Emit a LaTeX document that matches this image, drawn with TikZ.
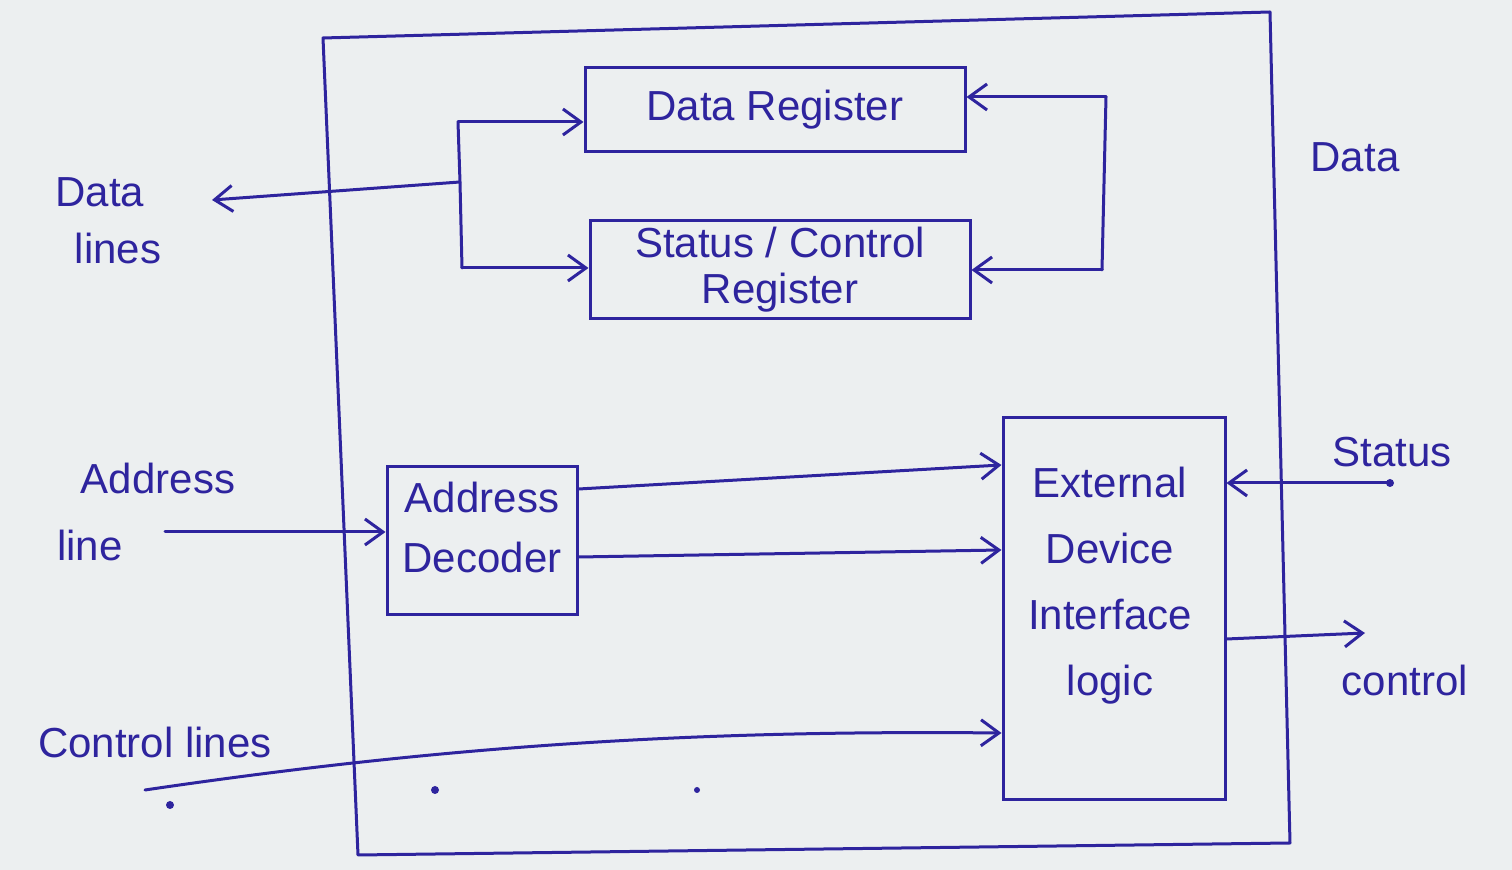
\documentclass[tikz,border=0pt]{standalone}
\usepackage{fontspec}
\setmainfont{Liberation Sans}
\usetikzlibrary{arrows.meta}
\definecolor{ink}{RGB}{46,36,158}
\definecolor{paper}{RGB}{236,239,240}
\begin{document}
\begin{tikzpicture}[x=0.5pt,y=-0.5pt,
  txt/.style={font=\fontsize{21}{23}\selectfont, text=ink},
  box/.style={draw=ink, line width=1.5pt, inner sep=0pt, align=center, txt},
  lbl/.style={align=center, inner sep=0pt, txt},
  conn/.style={draw=ink, line width=1.5pt, line cap=round, line join=round},
  arr/.style={conn, -{Straight Barb[length=9pt,width=13pt,line width=1.5pt]}},
  inkdot/.style={fill=ink, circle, inner sep=0pt, minimum size=4pt}]

% paper
\fill[paper] (0,0) rectangle (1512,870);
\useasboundingbox (0,0) rectangle (1512,870);

% outer boundary of the I/O module
\draw[conn] (323,38) -- (1270,12) -- (1290,843) -- (358,855) -- cycle;

% registers
\node[box, minimum width=190pt, minimum height=42pt] (dr) at (775,110) {Data Register};
\node[box, minimum width=190pt, minimum height=49pt] (sr) at (780,270) {Status / Control\\Register};

% address decoder
\node[box, minimum width=95pt, minimum height=74pt] (ad) at (482,541) {};
\node[lbl, font=\fontsize{21}{30}\selectfont] (adT) at (482,527) {Address\\Decoder};

% external device interface logic
\node[box, minimum width=111pt, minimum height=191pt] (ext) at (1114,609) {};
\node[lbl, font=\fontsize{21}{33}\selectfont] (extT) at (1110,586) {External\\Device\\Interface\\logic};

% internal data bus (left)
\coordinate (lbT) at (458,122);
\coordinate (lbM) at (460,182);
\coordinate (lbB) at (462,268);
\coordinate (dlEnd) at (212,200);
\draw[conn] (lbT) -- (lbM) -- (lbB);
\draw[arr] (lbT) -- (lbT -| dr.west);
\draw[arr] (lbB) -- (lbB -| sr.west);
\draw[arr] (lbM) -- (dlEnd);

% data bus from the device side (right)
\coordinate (rbT) at (1106,97);
\coordinate (rbB) at (1102,270);
\draw[conn] (rbT) -- (rbB);
\draw[arr] (rbT) -- (rbT -| dr.east);
\draw[arr] (rbB) -- (rbB -| sr.east);

% address lines
\coordinate (al) at (165,532);
\draw[arr] (al) -- (al -| ad.west);
\draw[arr] ([yshift=26pt]ad.east) -- ([yshift=72pt]ext.west);
\draw[arr] ([yshift=-8pt]ad.east) -- ([yshift=29.5pt]ext.west);

% control lines
\coordinate (cl) at (145,790);
\draw[arr] (cl) .. controls (450,745) and (700,730) .. ([yshift=-62pt]ext.west);

% status and control to the device
\coordinate (st) at (1390,483);
\draw[arr] (st) -- (st -| ext.east);
\node[inkdot] (stDot) at (st) {};
\coordinate (ct) at (1365,633);
\draw[arr] ([yshift=-15pt]ext.east) -- (ct);

% labels
\node[lbl] (dlT1) at (100,192) {Data};
\node[lbl] (dlT2) at (118,248) {lines};
\node[lbl] (dataT) at (1355,157) {Data};
\node[lbl] (alT1) at (158,478) {Address};
\node[lbl] (alT2) at (90,545) {line};
\node[lbl] (stT) at (1392,452) {Status};
\node[lbl] (ctT) at (1405,680) {control};
\node[lbl] (clT) at (155,742) {Control lines};

% pen marks on the page
\node[inkdot] (m1) at (170,805) {};
\node[inkdot] (m2) at (435,790) {};
\node[inkdot, minimum size=3pt] (m3) at (697,790) {};
\end{tikzpicture}
\end{document}
